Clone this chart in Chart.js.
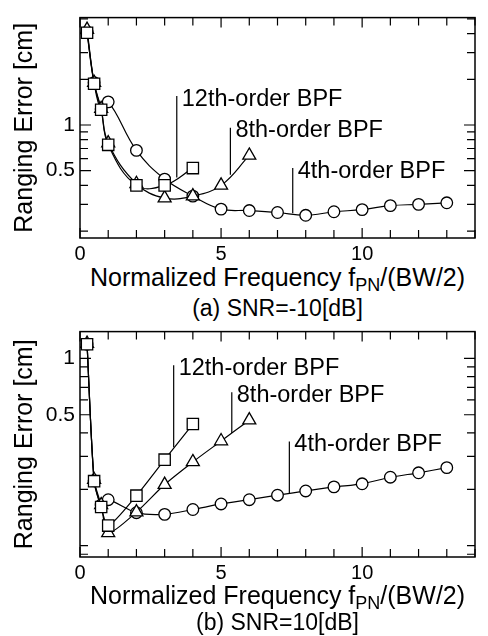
<!DOCTYPE html>
<html>
<head>
<meta charset="utf-8">
<script src="https://cdn.jsdelivr.net/npm/chart.js@4/dist/chart.umd.min.js"></script>
<style>
  html, body { margin:0; padding:0; background:#fff; }
  #wrap { position:relative; width:488px; height:636px; overflow:hidden; font-family:"Liberation Sans", Arial, Helvetica, sans-serif; color:#000; }
  canvas { position:absolute; left:0; }
  .txt { position:absolute; left:80px; width:395px; text-align:center; white-space:nowrap; }
  .xt { font-size:25px; line-height:30px; }
  .cap { font-size:23px; line-height:26px; }
  sub { font-size:0.72em; vertical-align:-0.3em; line-height:0; }
</style>
</head>
<body>
<div id="wrap">
  <canvas id="cA" width="488" height="262" style="top:0px"></canvas>
  <div class="txt xt" style="top:262px">Normalized Frequency f<sub>PN</sub>/(BW/2)</div>
  <div class="txt cap" style="top:295px">(a) SNR=-10[dB]</div>
  <canvas id="cB" width="488" height="267" style="top:314px"></canvas>
  <div class="txt xt" style="top:580px">Normalized Frequency f<sub>PN</sub>/(BW/2)</div>
  <div class="txt cap" style="top:609px">(b) SNR=10[dB]</div>
</div>
<script>
// ---------- data ----------
const freq4 = [0.25, 0.5, 0.75, 1, 2, 3, 4, 5, 6, 7, 8, 9, 10, 11, 12, 13];
const freq8 = [0.25, 0.5, 0.75, 1, 2, 3, 4, 5, 6];
const freq12 = [0.25, 0.5, 0.75, 1, 2, 3, 4];

// (a) SNR = -10 dB
const errA4 = [4.1, 1.9, 1.27, 1.42, 0.68, 0.44, 0.34, 0.279, 0.273, 0.265, 0.254, 0.268, 0.277, 0.294, 0.300, 0.307];
const errA8 = [4.25, 1.9, 1.28, 0.76, 0.41, 0.33, 0.34, 0.40, 0.63];
const errA12 = [4.05, 1.87, 1.26, 0.74, 0.40, 0.40, 0.52];

// (b) SNR = 10 dB
const errB4 = [1.19, 0.222, 0.165, 0.176, 0.150, 0.147, 0.156, 0.167, 0.176, 0.186, 0.196, 0.206, 0.214, 0.232, 0.245, 0.261];
const errB8 = [1.2, 0.225, 0.165, 0.117, 0.151, 0.212, 0.28, 0.362, 0.468];
const errB12 = [1.19, 0.221, 0.161, 0.128, 0.185, 0.288, 0.446];

const seriesNames = ['12th-order BPF', '8th-order BPF', '4th-order BPF'];
const xTickLabels = [0, 5, 10];
const yTickLabels = [0.5, 1];
const xMinorTicks = [0,1,2,3,4,5,6,7,8,9,10,11,12,13,14];

// leader-label anchors: [x, yTop, yBottom]
const annA = [[3.43, 1.55, 0.45], [5.33, 0.96, 0.47], [7.54, 0.52, 0.262]];
const annB = [[3.32, 0.92, 0.335], [5.38, 0.66, 0.40], [7.42, 0.36, 0.189]];

// ---------- helpers ----------
const FONT = '"Liberation Sans", Arial, Helvetica, sans-serif';
function pts(xs, ys) { return xs.map((x, i) => ({ x: x, y: ys[i] })); }

function ds(label, data, style, radius, tension) {
  return {
    label: label, data: data, showLine: true,
    borderColor: '#000', borderWidth: 1.2, tension: tension,
    pointStyle: style, pointRadius: radius, pointHoverRadius: radius,
    pointBackgroundColor: '#fff', pointBorderColor: '#000', pointBorderWidth: 1.3,
    fill: false
  };
}

function minorLogTicks(min, max) {
  const out = [];
  for (let e = -2; e <= 1; e++) {
    for (let m = 1; m <= 9; m++) {
      const v = m * Math.pow(10, e);
      if (v > min && v < max) out.push(v);
    }
  }
  return out;
}

const framePlugin = {
  id: 'frame',
  beforeDatasetsDraw(chart) {
    const { ctx, chartArea: a, scales } = chart;
    ctx.save();
    ctx.strokeStyle = '#000';
    ctx.lineWidth = 1.5;
    ctx.strokeRect(a.left, a.top, a.right - a.left, a.bottom - a.top);
    ctx.lineWidth = 1.2;
    ctx.beginPath();
    xMinorTicks.forEach(v => {
      const px = scales.x.getPixelForValue(v);
      const L = xTickLabels.includes(v) ? 10 : 8;
      ctx.moveTo(px, a.bottom); ctx.lineTo(px, a.bottom - L);
      ctx.moveTo(px, a.top); ctx.lineTo(px, a.top + L);
    });
    minorLogTicks(scales.y.min, scales.y.max).forEach(v => {
      const py = scales.y.getPixelForValue(v);
      const L = yTickLabels.some(t => Math.abs(t - v) < 1e-9) ? 11 : 8;
      ctx.moveTo(a.left, py); ctx.lineTo(a.left + L, py);
      ctx.moveTo(a.right, py); ctx.lineTo(a.right - L, py);
    });
    ctx.stroke();
    ctx.restore();
  }
};

const annPlugin = {
  id: 'ann',
  afterDatasetsDraw(chart, args, opts) {
    const { ctx, scales } = chart;
    ctx.save();
    ctx.strokeStyle = '#000';
    ctx.lineWidth = 1.2;
    ctx.fillStyle = '#000';
    ctx.font = '23.5px ' + FONT;
    ctx.textBaseline = 'middle';
    ctx.textAlign = 'left';
    opts.items.forEach((it, i) => {
      const px = scales.x.getPixelForValue(it[0]);
      const yt = scales.y.getPixelForValue(it[1]);
      const yb = scales.y.getPixelForValue(it[2]);
      ctx.beginPath();
      ctx.moveTo(px, yt); ctx.lineTo(px, yb);
      ctx.stroke();
      ctx.fillText(seriesNames[i], px + 5, yt + 3);
    });
    ctx.restore();
  }
};

function makeChart(id, e12, e8, e4, yMin, yMax, padTop, xAxisH, ann, tension) {
  return new Chart(document.getElementById(id), {
    type: 'scatter',
    data: {
      datasets: [
        ds(seriesNames[0], pts(freq12, e12), 'rect', 8, tension),
        ds(seriesNames[1], pts(freq8, e8), 'triangle', 7.5, tension),
        ds(seriesNames[2], pts(freq4, e4), 'circle', 5.8, tension)
      ]
    },
    options: {
      responsive: false, animation: false, devicePixelRatio: 1,
      layout: { padding: { top: padTop, right: 13, left: 0, bottom: 0 } },
      plugins: { legend: { display: false }, tooltip: { enabled: false }, ann: { items: ann } },
      scales: {
        x: {
          type: 'linear', min: 0, max: 14,
          afterBuildTicks: s => { s.ticks = xTickLabels.map(v => ({ value: v })); },
          afterFit: s => { s.height = xAxisH; },
          grid: { display: false, drawTicks: false }, border: { display: false },
          ticks: { padding: 4, color: '#000', font: { family: FONT, size: 20 }, maxRotation: 0, autoSkip: false }
        },
        y: {
          type: 'logarithmic', min: yMin, max: yMax,
          afterBuildTicks: s => { s.ticks = yTickLabels.map(v => ({ value: v })); },
          afterFit: s => { s.width = 80; },
          grid: { display: false, drawTicks: false }, border: { display: false },
          ticks: { padding: 5, color: '#000', font: { family: FONT, size: 21 }, autoSkip: false, callback: v => String(v) },
          title: { display: true, text: 'Ranging Error [cm]', color: '#000', font: { family: FONT, size: 25 }, padding: { top: 10, bottom: 0 } }
        }
      }
    },
    plugins: [framePlugin, annPlugin]
  });
}

makeChart('cA', errA12, errA8, errA4, 0.18, 5.1, 9, 24, annA, 0.4);
makeChart('cB', errB12, errB8, errB4, 0.087, 1.39, 9, 24, annB, 0.25);
</script>
</body>
</html>
